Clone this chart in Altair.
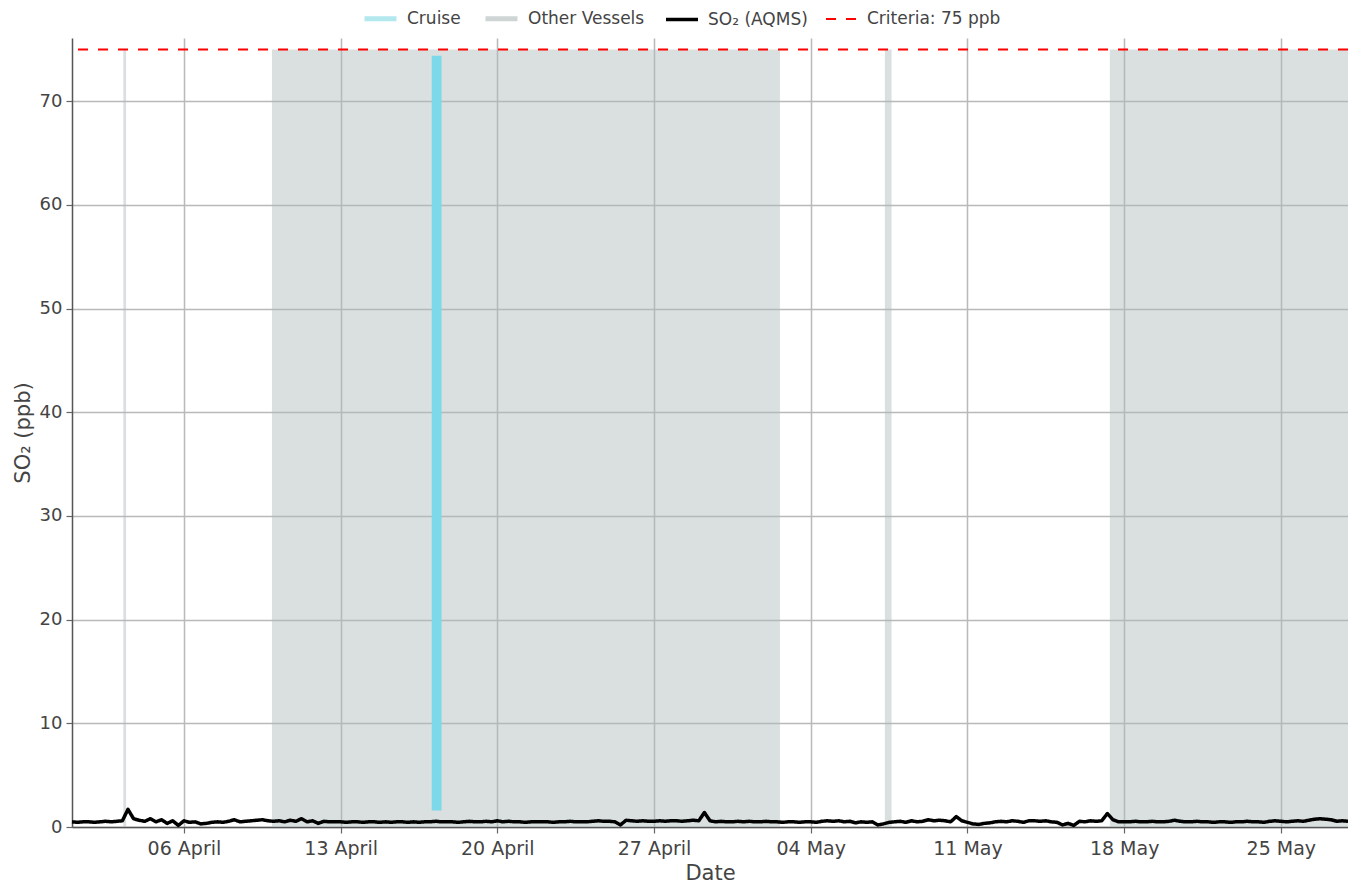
import altair as alt
import pandas as pd

# ---------------- data ----------------
series_names = ["Cruise", "Other Vessels", "SO₂ (AQMS)", "Criteria:  75 ppb"]

vessel_start = ["2025-04-03 07:00", "2025-04-09 22:20", "2025-05-07 07:30", "2025-05-17 08:40"]
vessel_end = ["2025-04-03 10:00", "2025-05-02 15:00", "2025-05-07 14:40", "2025-05-28 00:00"]
vessel_low = [0, 0, 0, 0]
vessel_high = [75, 75, 75, 75]

cruise_start = ["2025-04-17 01:40"]
cruise_end = ["2025-04-17 12:10"]
cruise_low = [1.6]
cruise_high = [74.4]

criteria_value = [75]

so2_start = "2025-04-01 00:00"
so2_step = "6h"
so2_values = [
    0.50, 0.45, 0.50, 0.50,  # Apr 1
    0.45, 0.50, 0.55, 0.50,
    0.55, 0.60, 1.70, 0.80,
    0.65, 0.55, 0.80, 0.50,
    0.70, 0.35, 0.60, 0.15,
    0.60, 0.45, 0.50, 0.30,  # Apr 6
    0.35, 0.45, 0.50, 0.45,
    0.55, 0.70, 0.50, 0.55,
    0.60, 0.65, 0.70, 0.60,
    0.55, 0.60, 0.50, 0.65,
    0.55, 0.80, 0.50, 0.60,  # Apr 11
    0.35, 0.55, 0.50, 0.50,
    0.50, 0.45, 0.50, 0.50,
    0.45, 0.50, 0.50, 0.45,
    0.50, 0.45, 0.50, 0.50,
    0.45, 0.50, 0.45, 0.50,  # Apr 16
    0.50, 0.55, 0.50, 0.50,
    0.50, 0.45, 0.50, 0.55,
    0.50, 0.50, 0.55, 0.50,
    0.60, 0.50, 0.55, 0.50,
    0.50, 0.45, 0.50, 0.50,  # Apr 21
    0.50, 0.50, 0.45, 0.50,
    0.50, 0.55, 0.50, 0.50,
    0.50, 0.55, 0.60, 0.55,
    0.55, 0.50, 0.20, 0.65,
    0.60, 0.55, 0.60, 0.55,  # Apr 26
    0.55, 0.60, 0.55, 0.60,
    0.60, 0.55, 0.60, 0.65,
    0.60, 1.40, 0.60, 0.50,
    0.55, 0.50, 0.50, 0.55,
    0.50, 0.55, 0.50, 0.50,  # May 1
    0.55, 0.50, 0.50, 0.45,
    0.50, 0.50, 0.45, 0.50,
    0.50, 0.45, 0.55, 0.60,
    0.55, 0.60, 0.50, 0.55,
    0.40, 0.50, 0.45, 0.50,  # May 6
    0.20, 0.30, 0.45, 0.50,
    0.55, 0.45, 0.60, 0.50,
    0.55, 0.70, 0.60, 0.65,
    0.60, 0.50, 1.00, 0.60,
    0.45, 0.30, 0.25, 0.35,  # May 11
    0.40, 0.50, 0.55, 0.50,
    0.60, 0.55, 0.45, 0.60,
    0.60, 0.55, 0.60, 0.50,
    0.45, 0.20, 0.35, 0.15,
    0.55, 0.50, 0.60, 0.55,  # May 16
    0.60, 1.30, 0.70, 0.50,
    0.50, 0.50, 0.55, 0.50,
    0.50, 0.55, 0.50, 0.50,
    0.55, 0.65, 0.55, 0.50,
    0.50, 0.55, 0.50, 0.50,  # May 21
    0.45, 0.50, 0.50, 0.45,
    0.50, 0.50, 0.55, 0.50,
    0.50, 0.45, 0.55, 0.60,
    0.55, 0.50, 0.55, 0.60,
    0.55, 0.65, 0.75, 0.80,  # May 26
    0.75, 0.70, 0.55, 0.60,
    0.55,                    # May 28 00:00
]

x_tick_dates = [(4, 6), (4, 13), (4, 20), (4, 27), (5, 4), (5, 11), (5, 18), (5, 25)]
y_tick_values = [0, 10, 20, 30, 40, 50, 60, 70]

# ---------------- styles (scale ranges) ----------------
legend_colors = ["#b3e8ef", "#cfd5d5", "#000000", "#ff0000"]
legend_dash = [[1, 0], [1, 0], [1, 0], [10, 10]]
legend_width = [5, 5, 3.5, 2]

# ---------------- tables ----------------
def utc(s):
    return pd.to_datetime(s).tz_localize("UTC")

vessels = pd.DataFrame({
    "start": [utc(s) for s in vessel_start],
    "end": [utc(s) for s in vessel_end],
    "low": vessel_low,
    "high": vessel_high,
})
cruise = pd.DataFrame({
    "start": [utc(s) for s in cruise_start],
    "end": [utc(s) for s in cruise_end],
    "low": cruise_low,
    "high": cruise_high,
})
so2 = pd.DataFrame({
    "date": pd.date_range(so2_start, periods=len(so2_values), freq=so2_step, tz="UTC"),
    "value": so2_values,
    "series": series_names[2],
})
crit = pd.DataFrame({"value": criteria_value, "series": [series_names[3]]})

FONT = "DejaVu Sans"
TXT = "#444444"
GRID = "#b9b9b9"

x_scale = alt.Scale(
    type="utc",
    domain=[alt.DateTime(year=2025, month=4, date=1, utc=True),
            alt.DateTime(year=2025, month=5, date=28, utc=True)],
    nice=False,
)
y_scale = alt.Scale(domain=[0, 76.1], nice=False, zero=False)

x_axis = alt.Axis(
    values=[alt.DateTime(year=2025, month=m, date=d, utc=True) for m, d in x_tick_dates],
    labelExpr="utcFormat(datum.value, '%d %B')", title="Date",
    labelFlush=False, tickSize=6, labelPadding=6, titlePadding=4, labelFontSize=19,
)
y_axis = alt.Axis(values=y_tick_values, title="SO₂ (ppb)", tickSize=6, labelPadding=4, titlePadding=6)

color_scale = alt.Scale(domain=series_names, range=legend_colors)
dash_scale = alt.Scale(domain=series_names, range=legend_dash)
width_scale = alt.Scale(type="ordinal", domain=series_names, range=legend_width)

bands = alt.Chart(vessels).mark_rect(fill="#aebbbb", opacity=0.45).encode(
    x=alt.X("start:T", scale=x_scale, axis=x_axis),
    x2="end:T",
    y=alt.Y("low:Q", scale=y_scale, axis=y_axis),
    y2="high:Q",
)

cruise_bar = alt.Chart(cruise).mark_rect(fill="#7dd8ea").encode(
    x=alt.X("start:T", scale=x_scale, axis=x_axis),
    x2="end:T",
    y=alt.Y("low:Q", scale=y_scale, axis=y_axis),
    y2="high:Q",
)

leg = alt.Legend(title=None)

line = alt.Chart(so2).mark_line(strokeJoin="round").encode(
    x=alt.X("date:T", scale=x_scale, axis=x_axis),
    y=alt.Y("value:Q", scale=y_scale, axis=y_axis),
    color=alt.Color("series:N", scale=color_scale, legend=leg),
    strokeDash=alt.StrokeDash("series:N", scale=dash_scale, legend=leg),
    strokeWidth=alt.StrokeWidth("series:N", scale=width_scale, legend=leg),
)

rule = alt.Chart(crit).mark_rule().encode(
    y=alt.Y("value:Q", scale=y_scale, axis=y_axis),
    color=alt.Color("series:N", scale=color_scale, legend=leg),
    strokeDash=alt.StrokeDash("series:N", scale=dash_scale, legend=leg),
    strokeWidth=alt.StrokeWidth("series:N", scale=width_scale, legend=leg),
)

chart = (
    alt.layer(bands, cruise_bar, line, rule)
    .properties(
        width=1276,
        height=789,
        padding={"left": 64, "top": 30, "right": 0, "bottom": 56},
        autosize=alt.AutoSizeParams(type="none"),
        background="white",
    )
    .configure_view(stroke=None)
    .configure_axis(
        labelFont=FONT, titleFont=FONT, labelFontSize=18, titleFontSize=21,
        labelColor=TXT, titleColor=TXT, titleFontWeight="normal",
        gridColor=GRID, gridWidth=1.5, gridOpacity=1,
        domainColor="#555555", domainWidth=1.5, tickColor="#666666", tickWidth=1.2,
    )
    .configure_legend(
        orient="none", legendX=290, legendY=-38, direction="horizontal",
        symbolType="stroke", symbolSize=1024, labelFont=FONT, labelFontSize=17,
        labelColor=TXT, labelOffset=8, columnPadding=14, labelLimit=300,
    )
)

chart.save("out.html", embed_options={"renderer": "svg", "actions": False})
